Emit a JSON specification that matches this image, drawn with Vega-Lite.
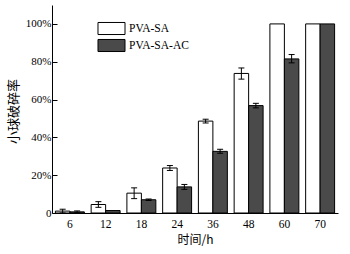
{
  "$schema": "https://vega.github.io/schema/vega-lite/v6.json",
  "width": 286,
  "height": 208,
  "autosize": {"type": "none"},
  "padding": {"left": 52, "top": 5, "right": 12, "bottom": 41},
  "background": "#ffffff",
  "config": {
    "view": {"stroke": null},
    "font": "Liberation Serif",
    "axis": {"labelFont": "Liberation Serif", "labelColor": "#000", "domainColor": "#000", "tickColor": "#000", "grid": false, "domainWidth": 1, "tickWidth": 1}
  },
  "data": {
    "values": [
      {"t": "6", "s": "PVA-SA", "v": 1.0, "lo": 0.0, "hi": 2.0},
      {"t": "6", "s": "PVA-SA-AC", "v": 0.6, "lo": 0.1, "hi": 1.1},
      {"t": "12", "s": "PVA-SA", "v": 4.5, "lo": 3.0, "hi": 6.0},
      {"t": "12", "s": "PVA-SA-AC", "v": 1.3, "lo": 1.3, "hi": 1.3},
      {"t": "18", "s": "PVA-SA", "v": 10.5, "lo": 7.6, "hi": 13.3},
      {"t": "18", "s": "PVA-SA-AC", "v": 7.0, "lo": 6.6, "hi": 7.4},
      {"t": "24", "s": "PVA-SA", "v": 23.8, "lo": 22.5, "hi": 25.1},
      {"t": "24", "s": "PVA-SA-AC", "v": 13.8, "lo": 12.5, "hi": 15.1},
      {"t": "36", "s": "PVA-SA", "v": 48.6, "lo": 47.6, "hi": 49.6},
      {"t": "36", "s": "PVA-SA-AC", "v": 32.6, "lo": 31.6, "hi": 33.7},
      {"t": "48", "s": "PVA-SA", "v": 73.8, "lo": 70.8, "hi": 76.7},
      {"t": "48", "s": "PVA-SA-AC", "v": 56.8, "lo": 55.6, "hi": 58.0},
      {"t": "60", "s": "PVA-SA", "v": 100, "lo": 100, "hi": 100},
      {"t": "60", "s": "PVA-SA-AC", "v": 81.5, "lo": 79.4, "hi": 83.8},
      {"t": "70", "s": "PVA-SA", "v": 100, "lo": 100, "hi": 100},
      {"t": "70", "s": "PVA-SA-AC", "v": 100, "lo": 100, "hi": 100}
    ]
  },
  "encoding": {
    "x": {
      "field": "t", "type": "ordinal",
      "sort": ["6", "12", "18", "24", "36", "48", "60", "70"],
      "scale": {"paddingInner": 0.19, "paddingOuter": 0.095},
      "axis": {"labelAngle": 0, "ticks": false, "labelPadding": 5, "labelFontSize": 11.5, "title": "时间/h", "titleFont": "Noto Sans CJK SC", "titleFontSize": 12, "titleFontWeight": "normal", "titlePadding": 5, "titleColor": "#000"}
    },
    "xOffset": {
      "field": "s", "type": "nominal", "sort": ["PVA-SA", "PVA-SA-AC"],
      "scale": {"paddingInner": 0, "paddingOuter": 0}
    }
  },
  "layer": [
    {
      "mark": {"type": "bar", "stroke": "#000", "strokeWidth": 1},
      "encoding": {
        "y": {
          "field": "v", "type": "quantitative",
          "scale": {"domain": [0, 110], "nice": false},
          "axis": {
            "values": [0, 10, 20, 30, 40, 50, 60, 70, 80, 90, 100, 110],
            "labelExpr": "datum.value % 20 === 0 && datum.value <= 100 ? (datum.value === 0 ? '0' : datum.value + '%') : ''",
            "tickSize": {"condition": {"test": "datum.value % 20 === 0", "value": -5}, "value": -3},
            "labelPadding": 6,
            "labelFontSize": 11,
            "title": "小球破碎率",
            "titleFont": "Noto Sans CJK SC",
            "titleFontSize": 13,
            "titleFontWeight": "normal",
            "titleColor": "#000",
            "titleX": -39,
            "titleY": 106,
            "titleAlign": "center",
            "titleBaseline": "middle",
            "titleAngle": -90
          }
        },
        "fill": {
          "field": "s", "type": "nominal",
          "scale": {"domain": ["PVA-SA", "PVA-SA-AC"], "range": ["#ffffff", "#4a4a4a"]},
          "legend": {
            "orient": "none", "legendX": 52, "legendY": 16, "title": null,
            "symbolType": "M-1.93,-0.86H1.93V0.86H-1.93Z",
            "symbolSize": 196,
            "symbolStrokeColor": "#000",
            "symbolStrokeWidth": 1,
            "symbolOpacity": 1,
            "labelFont": "Liberation Serif",
            "labelFontSize": 11.5,
            "labelColor": "#000",
            "labelOffset": 10,
            "rowPadding": 0
          }
        }
      }
    },
    {
      "transform": [{"filter": "datum.hi > datum.lo"}],
      "mark": {"type": "rule", "color": "#000", "strokeWidth": 1},
      "encoding": {
        "y": {"field": "lo", "type": "quantitative"},
        "y2": {"field": "hi"}
      }
    },
    {
      "transform": [{"filter": "datum.hi > datum.lo"}],
      "mark": {"type": "tick", "color": "#000", "size": 6, "thickness": 1, "opacity": 1},
      "encoding": {"y": {"field": "hi", "type": "quantitative"}}
    },
    {
      "transform": [{"filter": "datum.hi > datum.lo"}],
      "mark": {"type": "tick", "color": "#000", "size": 6, "thickness": 1, "opacity": 1},
      "encoding": {"y": {"field": "lo", "type": "quantitative"}}
    }
  ]
}
